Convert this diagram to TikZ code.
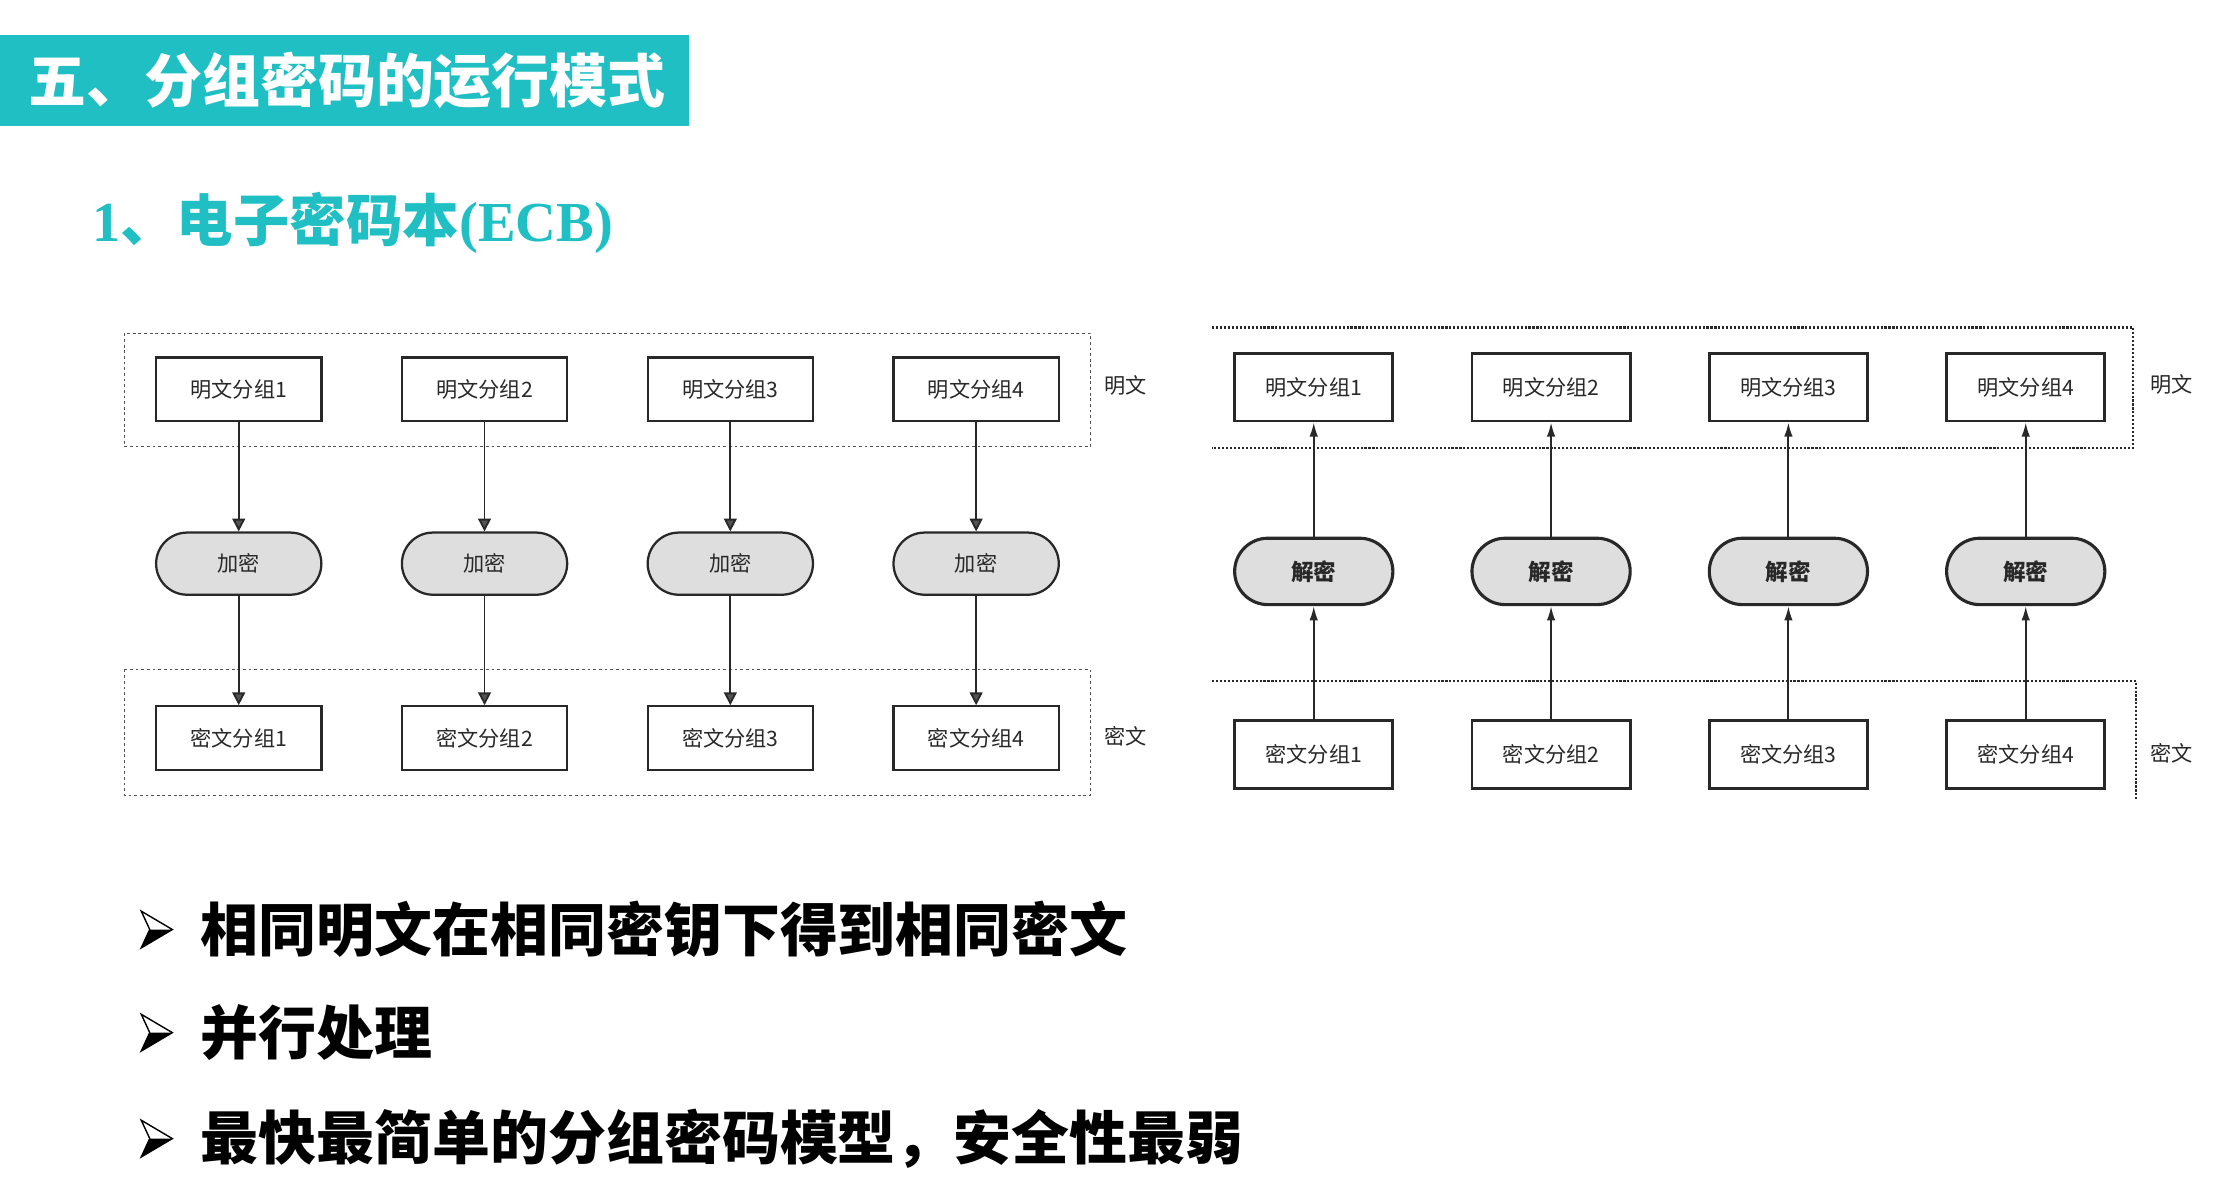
\documentclass[tikz,border=0pt]{standalone}
\usepackage{fontspec}
\newfontfamily\cjk{Noto Sans CJK SC}
\newfontfamily\latinserif{Liberation Serif}
\usetikzlibrary{shapes.misc,arrows.meta}
\definecolor{teal}{RGB}{31,191,196}
\definecolor{ink}{RGB}{40,40,40}
\definecolor{pillgray}{RGB}{222,222,222}
\begin{document}
\begin{tikzpicture}[x=1pt,y=-1pt,
  lbox/.style={draw=ink,line width=1.6pt,minimum width=117pt,minimum height=45pt,inner sep=0pt,
    font=\cjk\fontsize{15}{15}\selectfont,text=ink},
  lpill/.style={rounded rectangle,draw=ink,line width=1.6pt,fill=pillgray,minimum width=117pt,
    minimum height=44pt,inner sep=0pt,font=\cjk\fontsize{15}{15}\selectfont,text=ink},
  rbox/.style={draw=ink,line width=2pt,minimum width=112pt,minimum height=48pt,inner sep=0pt,
    font=\cjk\fontsize{15}{15}\selectfont,text=ink},
  rpill/.style={rounded rectangle,draw=ink,line width=2.2pt,fill=pillgray,minimum width=112pt,
    minimum height=47pt,inner sep=0pt,font=\cjk\bfseries\fontsize{16}{16}\selectfont,text=ink},
  sidelabel/.style={font=\cjk\fontsize{15}{15}\selectfont,text=ink,inner sep=0pt},
  larrow/.style={draw=ink,line width=1.3pt,-{Triangle[length=9pt,width=9pt,fill=ink!80]}},
  rarrow/.style={draw=ink,line width=1.4pt,-{Latex[length=10pt,width=6pt]}},
  lgroup/.style={draw=ink!80,line width=0.9pt,dash pattern=on 2pt off 2pt},
  rgroup/.style={draw=ink,line width=1.8pt,dash pattern=on 1.5pt off 1.3pt},
  bullettext/.style={anchor=west,inner sep=0pt,font=\cjk\bfseries\fontsize{41}{41}\selectfont,text=black}
]
\useasboundingbox (0,0) rectangle (1568,849);
\fill[white] (0,0) rectangle (1568,849);

% heading bar
\fill[teal] (0,25) rectangle (488,89);
\node[anchor=west,inner sep=0pt,text=white,font=\cjk\bfseries\fontsize{41}{41}\selectfont] (head) at (20,57) {五、分组密码的运行模式};

% subheading
\node[anchor=west,inner sep=0pt,text=teal] (sub) at (65,158)
  {{\latinserif\bfseries\fontsize{40}{40}\selectfont 1}{\cjk\bfseries\fontsize{40}{40}\selectfont 、电子密码本}{\latinserif\bfseries\fontsize{40}{40}\selectfont (ECB)}};

% ---- encryption side ----
\draw[lgroup] (88,236) rectangle (772,316);
\draw[lgroup] (88,474) rectangle (772,563);
\foreach \i/\x in {1/169,2/343,3/517,4/691}{
  \node[lbox]  (p\i) at (\x,275.5) {明文分组\i};
  \node[lpill] (e\i) at (\x,399)   {加密};
  \node[lbox]  (c\i) at (\x,522.5) {密文分组\i};
  \draw[larrow] (p\i.south) -- (e\i.north);
  \draw[larrow] (e\i.south) -- (c\i.north);
}
\node[sidelabel] (lplain)  at (797,273) {明文};
\node[sidelabel] (lcipher) at (797,521) {密文};

% ---- decryption side ----
\draw[rgroup] (858,232) -- (1510,232) -- (1510,317) -- (858,317);
\draw[rgroup] (858,482) -- (1512,482) -- (1512,567);
\foreach \i/\x in {1/930,2/1098,3/1266,4/1434}{
  \node[rbox]  (rp\i) at (\x,274)   {明文分组\i};
  \node[rpill] (d\i)  at (\x,404.5) {解密};
  \node[rbox]  (rc\i) at (\x,534)   {密文分组\i};
  \draw[rarrow] (rc\i.north) -- (d\i.south);
  \draw[rarrow] (d\i.north) -- (rp\i.south);
}
\node[sidelabel] (rplain)  at (1537,272) {明文};
\node[sidelabel] (rcipher) at (1537,533) {密文};

% ---- bullet points ----
\foreach \y/\t [count=\k] in {658/相同明文在相同密钥下得到相同密文,731/并行处理,806/最快最简单的分组密码模型，安全性最弱}{
  \begin{scope}[shift={(111,\y)}]
    \fill[black] (-5,0) -- (11,0) -- (-11,13) -- cycle;
    \draw[black,line width=1pt,line join=miter] (11,0) -- (-11,-13) -- (-5,0) -- (-11,13) -- cycle;
  \end{scope}
  \node[bullettext] (b\k) at (142,\y) {\t};
}
\end{tikzpicture}
\end{document}
